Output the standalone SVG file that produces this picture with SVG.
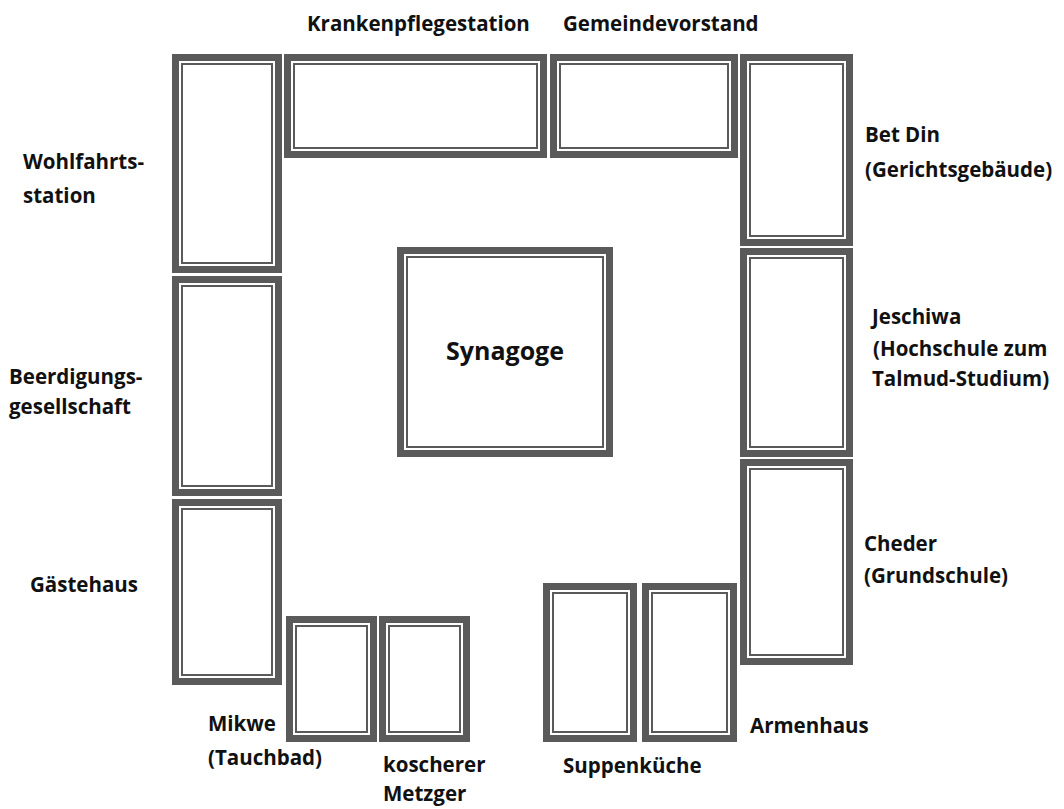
<svg xmlns="http://www.w3.org/2000/svg" width="1064" height="809" viewBox="0 0 1064 809">
<style>
.o{fill:#fff;stroke:#5a5a5a;stroke-width:7}
.i{fill:none;stroke:#5a5a5a;stroke-width:2}
text{font-family:"Open Sans","Liberation Sans",sans-serif;font-weight:700;font-size:20.5px;fill:#111}
.big{font-size:25px}
</style>
<rect width="1064" height="809" fill="#fff"/>
<g id="wohlfahrt"><rect class="o" x="175.5" y="57.5" width="103" height="212"/><rect class="i" x="182" y="64" width="90" height="199"/>
<text x="23" y="169">Wohlfahrts-</text><text x="23" y="203">station</text></g>
<g id="beerdigung"><rect class="o" x="175.5" y="279.5" width="103" height="213"/><rect class="i" x="182" y="286" width="90" height="200"/>
<text x="9" y="384">Beerdigungs-</text><text x="9" y="414">gesellschaft</text></g>
<g id="gaestehaus"><rect class="o" x="175.5" y="502.5" width="103" height="179"/><rect class="i" x="182" y="509" width="90" height="166"/>
<text x="30" y="592">Gästehaus</text></g>
<g id="krankenpflege"><rect class="o" x="287.5" y="57.5" width="256" height="97"/><rect class="i" x="294" y="64" width="243" height="84"/>
<text x="307" y="31">Krankenpflegestation</text></g>
<g id="gemeindevorstand"><rect class="o" x="553.5" y="57.5" width="181" height="97"/><rect class="i" x="560" y="64" width="168" height="84"/>
<text x="563" y="31">Gemeindevorstand</text></g>
<g id="betdin"><rect class="o" x="743.5" y="57.5" width="106" height="185"/><rect class="i" x="750" y="64" width="93" height="172"/>
<text x="865" y="142">Bet Din</text><text x="865" y="177">(Gerichtsgebäude)</text></g>
<g id="jeschiwa"><rect class="o" x="743.5" y="251.5" width="106" height="202"/><rect class="i" x="750" y="258" width="93" height="189"/>
<text x="872" y="324">Jeschiwa</text><text x="873" y="356">(Hochschule zum</text><text x="872" y="386">Talmud-Studium)</text></g>
<g id="cheder"><rect class="o" x="743.5" y="462.5" width="106" height="199"/><rect class="i" x="750" y="469" width="93" height="186"/>
<text x="864" y="551">Cheder</text><text x="864" y="583">(Grundschule)</text></g>
<g id="synagoge"><rect class="o" x="400.5" y="250.5" width="209" height="203"/><rect class="i" x="407" y="257" width="196" height="190"/>
<text class="big" x="505" y="360" text-anchor="middle">Synagoge</text></g>
<g id="mikwe"><rect class="o" x="289.5" y="619.5" width="84" height="119"/><rect class="i" x="296" y="626" width="71" height="106"/>
<text x="208" y="731">Mikwe</text><text x="208" y="765">(Tauchbad)</text></g>
<g id="metzger"><rect class="o" x="382.5" y="619.5" width="84" height="119"/><rect class="i" x="389" y="626" width="71" height="106"/>
<text x="383" y="772">koscherer</text><text x="383" y="801">Metzger</text></g>
<g id="suppenkueche"><rect class="o" x="546.5" y="586.5" width="87" height="152"/><rect class="i" x="553" y="593" width="74" height="139"/>
<text x="563" y="773">Suppenküche</text></g>
<g id="armenhaus"><rect class="o" x="645.5" y="586.5" width="88" height="152"/><rect class="i" x="652" y="593" width="75" height="139"/>
<text x="750" y="733">Armenhaus</text></g>
<g id="connectors"/>
</svg>
